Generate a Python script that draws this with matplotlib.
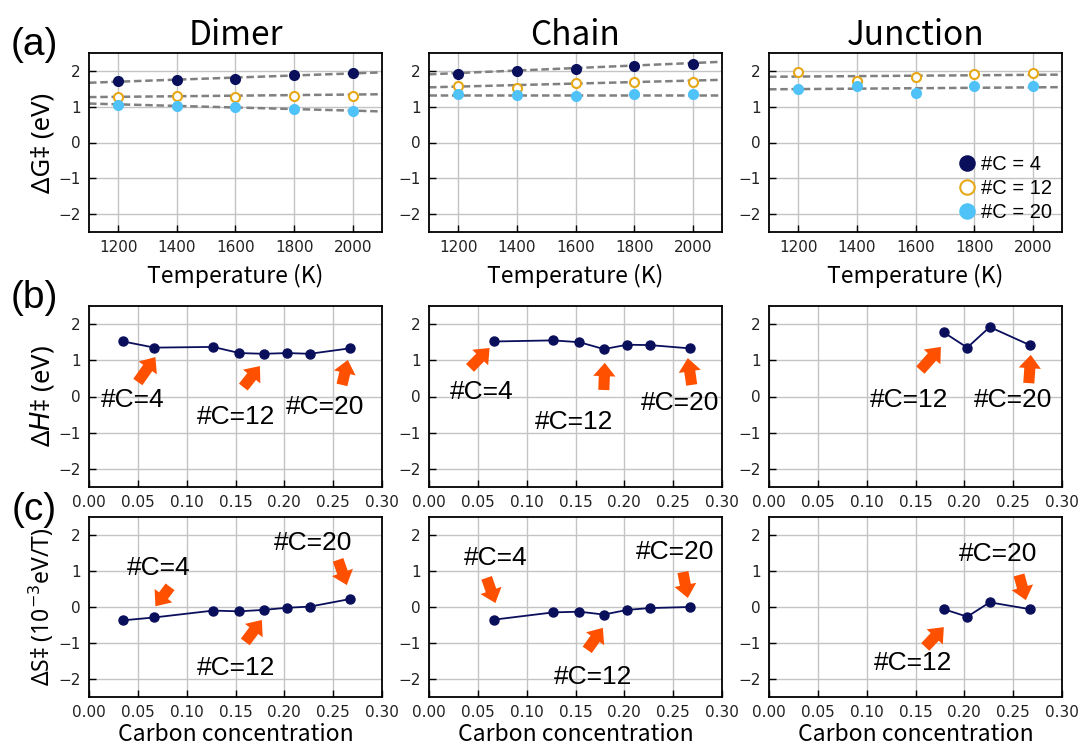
import numpy as np
import matplotlib.pyplot as plt

# --- data -------------------------------------------------------------
structures = ['Dimer', 'Chain', 'Junction']
temps = [1200, 1400, 1600, 1800, 2000]
n_carbon = [4, 12, 20]

# dG (eV) vs temperature, one list per #C
dimer_g = {4: [1.72, 1.75, 1.76, 1.88, 1.94],
           12: [1.27, 1.30, 1.28, 1.31, 1.31],
           20: [1.05, 1.01, 0.98, 0.93, 0.88]}
chain_g = {4: [1.92, 2.01, 2.06, 2.15, 2.19],
           12: [1.58, 1.52, 1.65, 1.68, 1.69],
           20: [1.35, 1.34, 1.31, 1.35, 1.35]}
junction_g = {12: [1.97, 1.72, 1.83, 1.90, 1.93],
              20: [1.50, 1.58, 1.39, 1.57, 1.57]}

# carbon concentration and dH (eV), dS (1e-3 eV/T)
dimer_conc = [0.035, 0.067, 0.127, 0.154, 0.179, 0.203, 0.226, 0.267]
dimer_h = [1.52, 1.35, 1.37, 1.20, 1.18, 1.20, 1.18, 1.33]
dimer_s = [-0.37, -0.29, -0.10, -0.12, -0.08, -0.02, 0.01, 0.22]

chain_conc = [0.067, 0.127, 0.154, 0.179, 0.203, 0.226, 0.267]
chain_h = [1.52, 1.55, 1.50, 1.31, 1.43, 1.42, 1.33]
chain_s = [-0.35, -0.15, -0.13, -0.21, -0.08, -0.03, 0.00]

junction_conc = [0.179, 0.203, 0.226, 0.267]
junction_h = [1.77, 1.35, 1.92, 1.42]
junction_s = [-0.06, -0.27, 0.13, -0.06]

# concentration that belongs to each #C
conc_of = {4: 0.067, 12: 0.179, 20: 0.267}

g_data = [dimer_g, chain_g, junction_g]
conc_data = [dimer_conc, chain_conc, junction_conc]
h_data = [dimer_h, chain_h, junction_h]
s_data = [dimer_s, chain_s, junction_s]

# annotation layout: (label, text x, text y, tail x, tail y, head x, head y)
notes_h = [
    [('#C=4', 0.045, -0.10, 0.050, 0.40, 0.068, 1.09),
     ('#C=12', 0.151, -0.57, 0.158, 0.26, 0.175, 0.84),
     ('#C=20', 0.242, -0.29, 0.259, 0.32, 0.265, 1.01)],
    [('#C=4', 0.054, 0.12, 0.042, 0.79, 0.062, 1.34),
     ('#C=12', 0.149, -0.70, 0.179, 0.18, 0.180, 0.93),
     ('#C=20', 0.257, -0.18, 0.269, 0.32, 0.265, 1.06)],
    [('#C=12', 0.143, -0.10, 0.155, 0.73, 0.176, 1.37),
     ('#C=20', 0.250, -0.10, 0.266, 0.37, 0.268, 1.15)],
]
notes_s = [
    [('#C=4', 0.071, 1.08, 0.083, 0.56, 0.068, 0.02),
     ('#C=12', 0.151, -1.69, 0.160, -0.97, 0.177, -0.36),
     ('#C=20', 0.229, 1.78, 0.255, 1.31, 0.264, 0.61)],
    [('#C=4', 0.068, 1.36, 0.059, 0.81, 0.068, 0.11),
     ('#C=12', 0.168, -1.94, 0.162, -1.19, 0.178, -0.58),
     ('#C=20', 0.252, 1.53, 0.260, 0.97, 0.265, 0.25)],
    [('#C=12', 0.147, -1.56, 0.160, -1.11, 0.179, -0.56),
     ('#C=20', 0.235, 1.47, 0.256, 0.89, 0.263, 0.19)],
]

# --- style ------------------------------------------------------------
navy = '#0a0f5c'
gold = '#e6a817'
sky = '#4fc3f7'
arrow_c = '#ff5000'
jp = ['Noto Sans CJK JP', 'DejaVu Sans']
sans = ['Noto Sans', 'DejaVu Sans']
arial = ['Liberation Sans', 'DejaVu Sans']

W, H = 1079, 745
fig = plt.figure(figsize=(W / 100, H / 100), dpi=100)

lefts = [89, 429, 769]
width = 293
rows = [(53, 232), (306, 487), (517, 697)]


def make_ax(col, row):
    top, bot = rows[row]
    ax = fig.add_axes([lefts[col] / W, 1 - bot / H, width / W, (bot - top) / H])
    ax.set_ylim(-2.5, 2.5)
    ax.set_yticks([-2, -1, 0, 1, 2])
    ax.grid(True, color='#c4c4c4', lw=1)
    ax.set_axisbelow(True)
    ax.tick_params(direction='in', length=5, width=1, labelsize=11,
                   labelcolor='#222222', pad=6)
    for sp in ax.spines.values():
        sp.set_linewidth(1.3)
    return ax


def arrows(ax, notes):
    for label, tx, ty, x0, y0, x1, y1 in notes:
        ax.text(tx, ty, label, ha='center', va='center', fontsize=19,
                family=arial)
        ax.annotate('', xy=(x1, y1), xytext=(x0, y0),
                    arrowprops=dict(arrowstyle='simple,head_length=0.6,'
                                    'head_width=1.0,tail_width=0.5',
                                    mutation_scale=16, color=arrow_c,
                                    shrinkA=0, shrinkB=0, lw=0))


t_line = np.array([1100, 2100])
for col, name in enumerate(structures):
    # (a) free energy vs temperature
    ax = make_ax(col, 0)
    ax.set_xlim(1100, 2100)
    ax.set_xticks(temps)
    ax.set_title(name, fontsize=24, family=jp, pad=4)
    ax.set_xlabel('Temperature (K)', fontsize=16.5, family=jp, labelpad=6)
    conc = np.array(conc_data[col])
    for n, color, face in [(4, navy, navy), (12, gold, 'white'), (20, sky, sky)]:
        if n in g_data[col]:
            i = int(np.argmin(np.abs(conc - conc_of[n])))
            fit = h_data[col][i] - t_line * s_data[col][i] * 1e-3
            ax.plot(t_line, fit, ls='--', color='#808080', lw=1.8,
                    dashes=(3, 1.5), zorder=2)
            ax.plot(temps, g_data[col][n], 'o', ms=6.5, color=color,
                    mfc=face, mew=1.5, zorder=3, label=f'#C = {n}')
        else:
            ax.plot([], [], 'o', ms=6.5, color=color, mfc=face, mew=1.5,
                    label=f'#C = {n}')
    if col == 0:
        ax.set_ylabel('ΔG‡ (eV)', fontsize=18.5, family=sans, labelpad=2)
    if col == 2:
        ax.legend(loc='lower right', frameon=False, markerscale=1.6,
                  prop={'family': arial, 'size': 14.5}, handletextpad=0.1,
                  labelspacing=0.25, borderaxespad=0.1, handlelength=1.2)

    # (b) enthalpy vs carbon concentration
    ax = make_ax(col, 1)
    ax.set_xlim(0, 0.3)
    ax.set_xticks(np.arange(0, 0.31, 0.05))
    ax.xaxis.set_major_formatter('{x:.2f}')
    ax.plot(conc_data[col], h_data[col], '-o', color=navy, lw=1.3, ms=6.5,
            zorder=3)
    arrows(ax, notes_h[col])
    if col == 0:
        ax.set_ylabel('Δ$H$‡ (eV)', fontsize=18.5, family=sans, labelpad=2)

    # (c) entropy vs carbon concentration
    ax = make_ax(col, 2)
    ax.set_xlim(0, 0.3)
    ax.set_xticks(np.arange(0, 0.31, 0.05))
    ax.xaxis.set_major_formatter('{x:.2f}')
    ax.plot(conc_data[col], s_data[col], '-o', color=navy, lw=1.3, ms=6.5,
            zorder=3)
    arrows(ax, notes_s[col])
    ax.set_xlabel('Carbon concentration', fontsize=16.5, family=jp,
                  labelpad=2)
    if col == 0:
        ax.set_ylabel('ΔS‡ (10$^{-3}$eV/T)', fontsize=16.5, family=sans,
                      labelpad=2)

for label, y in [('(a)', 45), ('(b)', 298), ('(c)', 510)]:
    fig.text(34 / W, 1 - y / H, label, ha='center', va='center',
             fontsize=28, family=arial)

fig.savefig('out.png', dpi=100)
